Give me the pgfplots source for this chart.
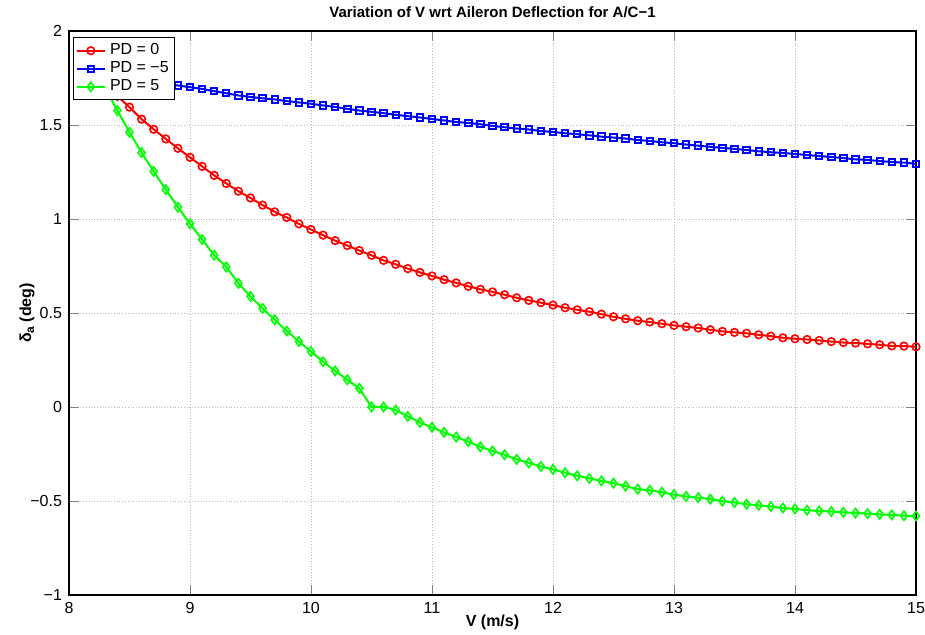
\documentclass[border=0pt]{standalone}
\usepackage{fontspec}
\setmainfont{Liberation Sans}
\usepackage{pgfplots}
\usepackage{pgfplotstable}
\pgfplotsset{compat=1.18}

% V, PD=0, PD=-5, PD=5 (delta_a in deg)
\pgfplotstableread{
V     red    blue   green
8.3   1.712  1.770  1.695
8.4   1.653  1.760  1.577
8.5   1.595  1.750  1.461
8.6   1.531  1.740  1.353
8.7   1.477  1.730  1.253
8.8   1.426  1.720  1.156
8.9   1.376  1.710  1.063
9.0   1.328  1.701  0.975
9.1   1.280  1.692  0.891
9.2   1.232  1.680  0.807
9.3   1.189  1.669  0.745
9.4   1.148  1.657  0.658
9.5   1.112  1.649  0.588
9.6   1.074  1.642  0.524
9.7   1.038  1.636  0.464
9.8   1.008  1.627  0.404
9.9   0.974  1.620  0.348
10.0  0.944  1.613  0.295
10.1  0.914  1.604  0.241
10.2  0.885  1.596  0.192
10.3  0.859  1.586  0.145
10.4  0.832  1.577  0.099
10.5  0.807  1.570  0.000
10.6  0.780  1.563  0.000
10.7  0.759  1.554 -0.016
10.8  0.736  1.547 -0.050
10.9  0.716  1.540 -0.082
11.0  0.697  1.532 -0.108
11.1  0.677  1.524 -0.135
11.2  0.660  1.516 -0.160
11.3  0.642  1.511 -0.184
11.4  0.626  1.504 -0.212
11.5  0.612  1.495 -0.234
11.6  0.597  1.488 -0.254
11.7  0.581  1.481 -0.279
11.8  0.567  1.476 -0.297
11.9  0.555  1.468 -0.316
12.0  0.542  1.463 -0.332
12.1  0.528  1.456 -0.350
12.2  0.517  1.451 -0.366
12.3  0.507  1.445 -0.380
12.4  0.494  1.438 -0.393
12.5  0.480  1.433 -0.405
12.6  0.469  1.428 -0.421
12.7  0.459  1.420 -0.437
12.8  0.452  1.415 -0.443
12.9  0.443  1.408 -0.453
13.0  0.434  1.403 -0.466
13.1  0.427  1.396 -0.476
13.2  0.420  1.390 -0.482
13.3  0.411  1.384 -0.490
13.4  0.402  1.378 -0.501
13.5  0.397  1.373 -0.508
13.6  0.392  1.367 -0.517
13.7  0.384  1.360 -0.523
13.8  0.377  1.355 -0.530
13.9  0.368  1.351 -0.537
14.0  0.363  1.346 -0.542
14.1  0.359  1.340 -0.549
14.2  0.354  1.335 -0.553
14.3  0.348  1.330 -0.556
14.4  0.343  1.324 -0.560
14.5  0.340  1.317 -0.564
14.6  0.336  1.314 -0.567
14.7  0.331  1.308 -0.571
14.8  0.325  1.303 -0.574
14.9  0.324  1.300 -0.578
15.0  0.320  1.294 -0.580
}\datatable

\begin{document}
\begin{tikzpicture}[x=1pt,y=1pt]
\path[use as bounding box] (-34.5,-20) rectangle (428,297.5);
\begin{axis}[
    at={(0,0)}, anchor=south west,
    scale only axis,
    width=423.5pt, height=282pt,
    xmin=8, xmax=15, ymin=-1, ymax=2,
    xtick={8,...,15},
    ytick={-1,-0.5,...,2},
    yticklabels={−1,−0.5,0,0.5,1,1.5,2},
    xtick pos=both, ytick pos=both,
    tick align=inside,
    major tick length=5pt,
    grid=major,
    grid style={densely dotted, gray!55, line width=0.4pt},
    axis line style={black, line width=0.6pt},
    /pgf/number format/assume math mode=true,
    tick label style={font=\fontsize{8}{9.6}\selectfont},
    title={\bfseries Variation of V wrt Aileron Deflection for A/C−1},
    title style={font=\fontsize{7.5}{9}\selectfont, at={(0.5,1)}, anchor=south, yshift=-3pt},
    xlabel={\bfseries V (m/s)},
    ylabel={\bfseries δ\raisebox{-0.35ex}{\fontsize{6}{7}\selectfont a} (deg)},
    label style={font=\fontsize{8}{9.6}\selectfont},
    xlabel style={yshift=6pt},
    ylabel style={yshift=-9pt},
    legend style={at={(0,1)}, anchor=north west, xshift=2pt, yshift=-3pt,
        draw=black, line width=0.6pt, font=\fontsize{8}{9.6}\selectfont,
        inner sep=1pt, row sep=-2pt},
    legend image code/.code={
        \draw[mark repeat=2, mark phase=2]
        plot coordinates {(0cm,0cm) (0.25cm,0cm) (0.5cm,0cm)};},
    legend cell align=left,
]
\addplot[red, line width=1pt, mark=o, mark size=1.9pt, mark options={solid, line width=0.8pt}]
    table[x=V, y=red] {\datatable};
\addlegendentry{PD = 0}
\addplot[blue, line width=1pt, mark=square, mark size=1.6pt, mark options={solid, line width=1pt}]
    table[x=V, y=blue] {\datatable};
\addlegendentry{PD = −5}
\addplot[green, line width=1pt, mark=diamond, mark size=2.3pt, mark options={solid, line width=0.8pt}]
    table[x=V, y=green] {\datatable};
\addlegendentry{PD = 5}
\end{axis}
\end{tikzpicture}
\end{document}
